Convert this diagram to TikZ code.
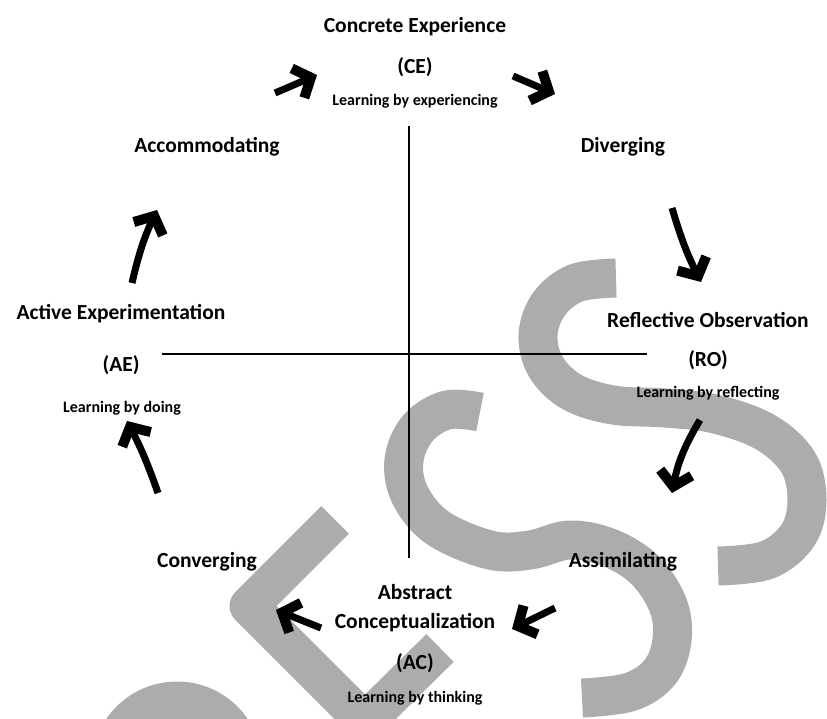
\documentclass[tikz,border=0pt]{standalone}
\usepackage{fontspec}
\setmainfont{Carlito}
\usetikzlibrary{arrows.meta}
\definecolor{wmgray}{RGB}{172,172,172}
\begin{document}
\begin{tikzpicture}[x=1pt,y=-1pt,
  band/.style={draw=wmgray, line width=39pt, line join=round},
  axis/.style={line width=2.4pt},
  cyc/.style={line width=7pt, -{Straight Barb[length=14pt,width=32pt,line width=10pt]}},
  big/.style={font=\fontsize{21.5}{25}\selectfont\bfseries, inner sep=0pt},
  small/.style={font=\fontsize{16}{19}\selectfont\bfseries, inner sep=0pt}]
\useasboundingbox (0,0) rectangle (827,719);

% grey background strokes
\draw[band] (335,520) -- (249,606) -- (365,722) -- (440,648);
\draw[band] (111,767) arc[start angle=180, end angle=360, radius=66];
\draw[band] plot[smooth, tension=0.6] coordinates {(480,412) (447,410) (418,428) (404,460) (410,495) (438,528) (490,550) (530,550) (570,540) (610,548) (645,570) (668,605) (672,640) (660,672) (630,692) (582,698)};
\draw[band] plot[smooth, tension=0.6] coordinates {(616,278) (576,283) (549,304) (538,335) (546,367) (572,392) (613,405) (665,408) (715,414) (765,432) (798,462) (807,500) (798,535) (767,560) (718,566)};

% axes
\coordinate (vt) at (409,126);
\coordinate (vb) at (409,558);
\coordinate (hl) at (162,354);
\coordinate (hr) at (647,354);
\draw[axis] (vt) -- (vb);
\draw[axis] (hl) -- (hr);

% labels
\node[big] (ce1) at (415,27) {Concrete Experience};
\node[big] (ce2) at (415,67) {(CE)};
\node[small] (ce3) at (415,101) {Learning by experiencing};
\node[big] (acc) at (207,147) {Accommodating};
\node[big] (div) at (623,147) {Diverging};
\node[big] (ae1) at (121,314) {Active Experimentation};
\node[big] (ae2) at (121,365) {(AE)};
\node[small] (ae3) at (122,408) {Learning by doing};
\node[big] (ro1) at (708,320) {Reflective Observation};
\node[big] (ro2) at (708,360) {(RO)};
\node[small] (ro3) at (708,393) {Learning by reflecting};
\node[big] (con) at (207,562) {Converging};
\node[big] (asm) at (623,562) {Assimilating};
\node[big] (ac1) at (415,592) {Abstract};
\node[big] (ac2) at (415,623) {Conceptualization};
\node[big] (ac3) at (415,663) {(AC)};
\node[small] (ac4) at (415,698) {Learning by thinking};

% cycle arrows
\coordinate (a1s) at (132,283); \coordinate (a1e) at (157,210);
\coordinate (a2s) at (275,93);  \coordinate (a2e) at (317,75);
\coordinate (a3s) at (513,76);  \coordinate (a3e) at (555,94);
\coordinate (a4s) at (672,208); \coordinate (a4e) at (701,282);
\coordinate (a5s) at (700,420); \coordinate (a5e) at (672,493);
\coordinate (a6s) at (555,608); \coordinate (a6e) at (512,629);
\coordinate (a7s) at (321,628); \coordinate (a7e) at (276,610);
\coordinate (a8s) at (158,493); \coordinate (a8e) at (127,421);
\draw[cyc] (a1s) to[bend left=6] (a1e);
\draw[cyc] (a2s) -- (a2e);
\draw[cyc] (a3s) -- (a3e);
\draw[cyc] (a4s) to[bend right=5] (a4e);
\draw[cyc] (a5s) to[bend right=10] (a5e);
\draw[cyc] (a6s) -- (a6e);
\draw[cyc] (a7s) -- (a7e);
\draw[cyc] (a8s) to[bend right=4] (a8e);
\end{tikzpicture}
\end{document}
